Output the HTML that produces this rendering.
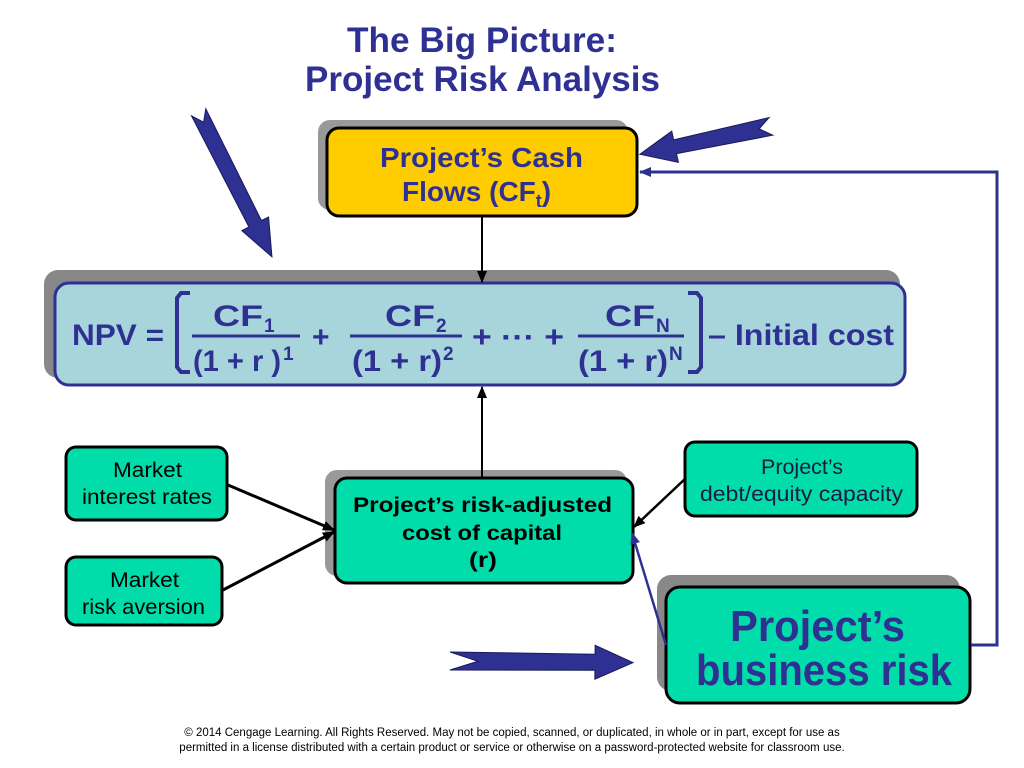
<!DOCTYPE html>
<html><head><meta charset="utf-8"><style>
html,body{margin:0;padding:0;background:#fff;}
svg{display:block;}
text{font-family:"Liberation Sans",Arial,sans-serif;}
</style></head><body>
<svg width="1024" height="768" viewBox="0 0 1024 768" xmlns="http://www.w3.org/2000/svg">
<defs>
<marker id="ab" markerWidth="12" markerHeight="12" refX="11" refY="6" orient="auto" markerUnits="userSpaceOnUse"><path d="M0,1 L12,6 L0,11 z" fill="#000"/></marker>
<marker id="au" markerWidth="12" markerHeight="12" refX="11" refY="6" orient="auto" markerUnits="userSpaceOnUse"><path d="M0,1 L12,6 L0,11 z" fill="#2E3192"/></marker>
</defs>
<!-- Title -->
<text x="347" y="52" font-size="35" font-weight="bold" fill="#2E3192" textLength="270" lengthAdjust="spacingAndGlyphs">The Big Picture:</text>
<text x="305" y="91" font-size="35" font-weight="bold" fill="#2E3192" textLength="355" lengthAdjust="spacingAndGlyphs">Project Risk Analysis</text>

<!-- Big block arrows -->
<g fill="#2E3192" stroke="#1a1a5a" stroke-width="1">
<polygon transform="translate(200,115) rotate(63.1)" points="-3,-8 122,-7 122,-15 159,0 122,15 122,7 -3,8 8,0"/>
<polygon transform="translate(768,127) rotate(168)" points="-3,-9 95,-7 95,-16 131,0 95,16 95,7 -3,9 9,0"/>
<polygon transform="translate(452,661) rotate(0.5)" points="-2,-9 143,-8 143,-17 181,0 143,17 143,8 -2,9 26,0"/>
</g>

<!-- Yellow box -->
<rect x="318" y="120" width="310" height="90" rx="12" fill="#999"/>
<rect x="327" y="128" width="310" height="88" rx="12" fill="#FFCC00" stroke="#000" stroke-width="3"/>
<text x="380" y="167" font-size="28" font-weight="bold" fill="#2E3192" textLength="203" lengthAdjust="spacingAndGlyphs">Project’s Cash</text>
<text x="402" y="201" font-size="28" font-weight="bold" fill="#2E3192">Flows (CF<tspan font-size="18" dy="6">t</tspan><tspan dy="-6">)</tspan></text>

<!-- NPV box -->
<rect x="44" y="270" width="856" height="108" rx="14" fill="#888"/>
<rect x="55" y="283" width="850" height="102" rx="14" fill="#A8D5DC" stroke="#2E3192" stroke-width="3"/>
<g font-weight="bold" fill="#2E3192" font-size="30">
<text x="72" y="345" textLength="92" lengthAdjust="spacingAndGlyphs">NPV =</text>
<path d="M190,293 L181,293 L177,298 L177,367 L181,372 L190,372" fill="none" stroke="#2E3192" stroke-width="4"/>
<text x="213" y="326" textLength="50" lengthAdjust="spacingAndGlyphs">CF</text><text x="264" y="332" font-size="19">1</text>
<line x1="192" y1="336" x2="300" y2="336" stroke="#2E3192" stroke-width="3"/>
<text x="193" y="371" textLength="88" lengthAdjust="spacingAndGlyphs">(1 + r )</text><text x="283" y="360" font-size="19">1</text>
<text x="312" y="347">+</text>
<text x="385" y="326" textLength="50" lengthAdjust="spacingAndGlyphs">CF</text><text x="436" y="332" font-size="19">2</text>
<line x1="350" y1="336" x2="462" y2="336" stroke="#2E3192" stroke-width="3"/>
<text x="352" y="371" textLength="90" lengthAdjust="spacingAndGlyphs">(1 + r)</text><text x="443" y="360" font-size="19">2</text>
<text x="472" y="347" textLength="92" lengthAdjust="spacingAndGlyphs">+ ··· +</text>
<text x="605" y="326" textLength="50" lengthAdjust="spacingAndGlyphs">CF</text><text x="656" y="332" font-size="19">N</text>
<line x1="578" y1="336" x2="684" y2="336" stroke="#2E3192" stroke-width="3"/>
<text x="578" y="371" textLength="90" lengthAdjust="spacingAndGlyphs">(1 + r)</text><text x="669" y="360" font-size="19">N</text>
<path d="M688,293 L697,293 L701,298 L701,367 L697,372 L688,372" fill="none" stroke="#2E3192" stroke-width="4"/>
<text x="708" y="345" textLength="186" lengthAdjust="spacingAndGlyphs">– Initial cost</text>
</g>

<!-- Small boxes -->
<rect x="66" y="447" width="161" height="73" rx="10" fill="#00DDAA" stroke="#000" stroke-width="3"/>
<text x="113" y="477" font-size="21" fill="#000" textLength="69" lengthAdjust="spacingAndGlyphs">Market</text>
<text x="82" y="504" font-size="21" fill="#000" textLength="130" lengthAdjust="spacingAndGlyphs">interest rates</text>
<rect x="66" y="557" width="156" height="68" rx="10" fill="#00DDAA" stroke="#000" stroke-width="3"/>
<text x="110" y="587" font-size="21" fill="#000" textLength="69" lengthAdjust="spacingAndGlyphs">Market</text>
<text x="82" y="614" font-size="21" fill="#000" textLength="123" lengthAdjust="spacingAndGlyphs">risk aversion</text>
<rect x="685" y="442" width="232" height="74" rx="10" fill="#00DDAA" stroke="#000" stroke-width="3"/>
<text x="761" y="474" font-size="21" fill="#1a1a40" textLength="82" lengthAdjust="spacingAndGlyphs">Project’s</text>
<text x="700" y="501" font-size="21" fill="#1a1a40" textLength="203" lengthAdjust="spacingAndGlyphs">debt/equity capacity</text>

<!-- Center box -->
<rect x="325" y="470" width="302" height="106" rx="12" fill="#999"/>
<rect x="335" y="478" width="298" height="105" rx="12" fill="#00DDAA" stroke="#000" stroke-width="3"/>
<text x="353" y="512" font-size="21" font-weight="bold" fill="#000" textLength="259" lengthAdjust="spacingAndGlyphs">Project’s risk-adjusted</text>
<text x="402" y="540" font-size="21" font-weight="bold" fill="#000" textLength="160" lengthAdjust="spacingAndGlyphs">cost of capital</text>
<text x="469" y="567" font-size="21" font-weight="bold" fill="#000" textLength="28" lengthAdjust="spacingAndGlyphs">(r)</text>

<!-- Business risk box -->
<rect x="657" y="575" width="303" height="116" rx="14" fill="#888"/>
<rect x="666" y="587" width="304" height="116" rx="14" fill="#00DDAA" stroke="#000" stroke-width="3"/>
<text x="730" y="641" font-size="44" font-weight="bold" fill="#2E3192" textLength="175" lengthAdjust="spacingAndGlyphs">Project’s</text>
<text x="696" y="685" font-size="44" font-weight="bold" fill="#2E3192" textLength="256" lengthAdjust="spacingAndGlyphs">business risk</text>

<!-- connectors -->
<line x1="482" y1="217" x2="482" y2="282" stroke="#000" stroke-width="2" marker-end="url(#ab)"/>
<line x1="482" y1="477" x2="482" y2="387" stroke="#000" stroke-width="2" marker-end="url(#ab)"/>
<polyline points="971,645 997,645 997,172 640,172" fill="none" stroke="#2E3192" stroke-width="3" marker-end="url(#au)"/>
<line x1="228" y1="485" x2="334" y2="530" stroke="#000" stroke-width="3" marker-end="url(#ab)"/>
<line x1="223" y1="590" x2="334" y2="532" stroke="#000" stroke-width="3" marker-end="url(#ab)"/>
<line x1="686" y1="478" x2="634" y2="527" stroke="#000" stroke-width="2.5" marker-end="url(#ab)"/>
<line x1="666" y1="645" x2="632" y2="533" stroke="#2E3192" stroke-width="2.5" marker-end="url(#au)"/>

<!-- Footer -->
<text x="512" y="736" text-anchor="middle" font-size="11.5" fill="#000">© 2014 Cengage Learning. All Rights Reserved. May not be copied, scanned, or duplicated, in whole or in part, except for use as</text>
<text x="512" y="751" text-anchor="middle" font-size="11.5" fill="#000">permitted in a license distributed with a certain product or service or otherwise on a password-protected website for classroom use.</text>
</svg>
</body></html>
